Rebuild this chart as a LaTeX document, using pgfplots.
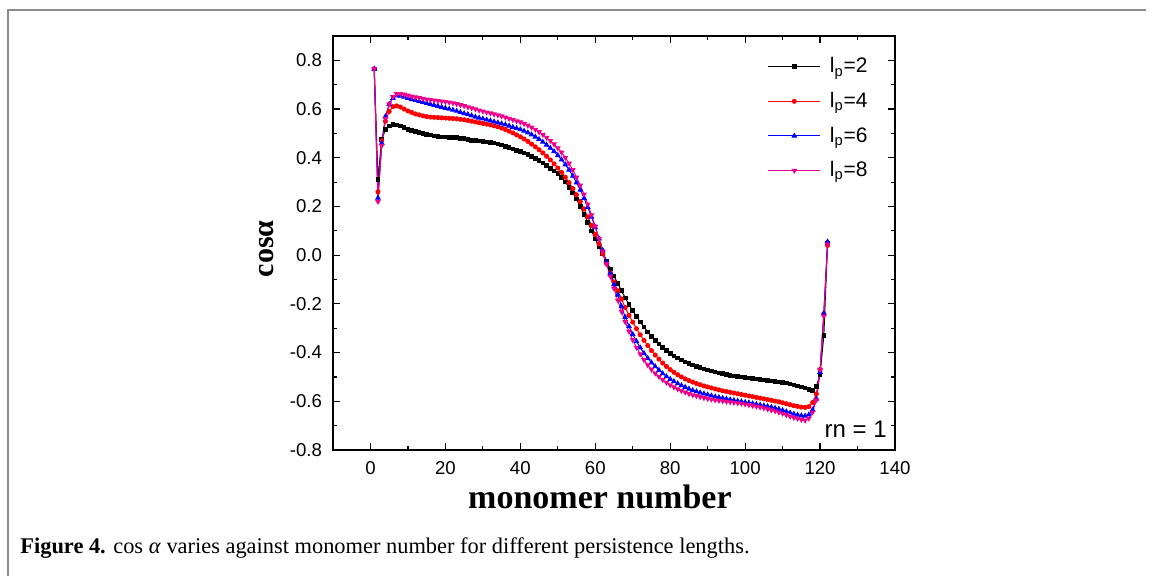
\documentclass[border=0pt]{standalone}
\usepackage{fontspec}
\setmainfont{Liberation Serif}
\newfontfamily\arial{Liberation Sans}
\usepackage{pgfplots}
\usepackage{pgfplotstable}
\pgfplotsset{compat=1.18}
\pgfplotstableread{
x k r b m
1 0.765 0.765 0.765 0.765
2 0.310 0.260 0.235 0.220
3 0.475 0.470 0.460 0.450
4 0.515 0.550 0.570 0.560
5 0.530 0.590 0.620 0.620
6 0.536 0.610 0.645 0.650
7 0.535 0.613 0.655 0.662
8 0.530 0.608 0.654 0.663
9 0.524 0.600 0.650 0.660
10 0.517 0.592 0.645 0.656
11 0.512 0.586 0.640 0.652
12 0.507 0.580 0.636 0.649
13 0.503 0.576 0.632 0.646
14 0.499 0.572 0.628 0.643
15 0.496 0.569 0.624 0.640
16 0.493 0.567 0.620 0.638
17 0.490 0.566 0.616 0.636
18 0.488 0.565 0.612 0.634
19 0.486 0.564 0.608 0.632
20 0.485 0.563 0.604 0.630
21 0.484 0.562 0.600 0.628
22 0.483 0.561 0.596 0.625
23 0.482 0.560 0.592 0.621
24 0.480 0.558 0.587 0.617
25 0.478 0.556 0.582 0.613
26 0.475 0.553 0.578 0.608
27 0.472 0.550 0.573 0.604
28 0.470 0.547 0.568 0.600
29 0.468 0.544 0.564 0.595
30 0.466 0.541 0.560 0.591
31 0.465 0.538 0.556 0.587
32 0.463 0.535 0.552 0.583
33 0.460 0.531 0.548 0.579
34 0.456 0.527 0.544 0.575
35 0.452 0.522 0.540 0.571
36 0.446 0.516 0.536 0.566
37 0.441 0.509 0.531 0.561
38 0.436 0.502 0.526 0.556
39 0.431 0.494 0.521 0.551
40 0.426 0.486 0.516 0.546
41 0.420 0.477 0.510 0.540
42 0.413 0.467 0.503 0.533
43 0.405 0.456 0.495 0.525
44 0.397 0.445 0.486 0.516
45 0.388 0.433 0.476 0.506
46 0.378 0.420 0.465 0.495
47 0.368 0.406 0.453 0.483
48 0.357 0.391 0.440 0.470
49 0.346 0.375 0.426 0.456
50 0.335 0.358 0.410 0.440
51 0.318 0.340 0.392 0.422
52 0.300 0.320 0.372 0.401
53 0.278 0.298 0.350 0.377
54 0.255 0.274 0.325 0.350
55 0.230 0.248 0.298 0.320
56 0.200 0.220 0.268 0.287
57 0.168 0.190 0.234 0.250
58 0.135 0.157 0.197 0.209
59 0.100 0.122 0.157 0.165
60 0.066 0.085 0.114 0.118
61 0.034 0.046 0.068 0.068
62 0.004 0.005 0.020 0.016
63 -0.026 -0.034 -0.028 -0.036
64 -0.056 -0.072 -0.075 -0.087
65 -0.086 -0.110 -0.120 -0.137
66 -0.116 -0.146 -0.163 -0.185
67 -0.146 -0.180 -0.210 -0.231
68 -0.176 -0.215 -0.255 -0.274
69 -0.203 -0.247 -0.292 -0.313
70 -0.228 -0.275 -0.325 -0.348
71 -0.252 -0.302 -0.354 -0.379
72 -0.274 -0.327 -0.380 -0.406
73 -0.295 -0.350 -0.403 -0.430
74 -0.315 -0.371 -0.423 -0.451
75 -0.333 -0.392 -0.441 -0.469
76 -0.350 -0.410 -0.457 -0.485
77 -0.365 -0.427 -0.472 -0.499
78 -0.379 -0.443 -0.486 -0.512
79 -0.392 -0.457 -0.498 -0.523
80 -0.404 -0.470 -0.509 -0.533
81 -0.414 -0.481 -0.518 -0.542
82 -0.423 -0.491 -0.527 -0.550
83 -0.431 -0.500 -0.535 -0.557
84 -0.438 -0.508 -0.542 -0.563
85 -0.445 -0.515 -0.549 -0.569
86 -0.451 -0.521 -0.555 -0.574
87 -0.457 -0.527 -0.560 -0.578
88 -0.462 -0.532 -0.565 -0.582
89 -0.467 -0.537 -0.569 -0.586
90 -0.472 -0.541 -0.573 -0.589
91 -0.476 -0.545 -0.577 -0.592
92 -0.480 -0.549 -0.581 -0.595
93 -0.484 -0.553 -0.584 -0.597
94 -0.487 -0.557 -0.587 -0.599
95 -0.490 -0.560 -0.590 -0.601
96 -0.493 -0.563 -0.593 -0.603
97 -0.496 -0.566 -0.596 -0.605
98 -0.498 -0.569 -0.599 -0.607
99 -0.500 -0.572 -0.601 -0.609
100 -0.502 -0.575 -0.604 -0.612
101 -0.504 -0.578 -0.606 -0.615
102 -0.506 -0.581 -0.609 -0.618
103 -0.508 -0.584 -0.612 -0.621
104 -0.510 -0.587 -0.615 -0.624
105 -0.512 -0.590 -0.618 -0.628
106 -0.514 -0.593 -0.621 -0.632
107 -0.516 -0.596 -0.624 -0.636
108 -0.518 -0.599 -0.628 -0.640
109 -0.520 -0.602 -0.632 -0.645
110 -0.522 -0.606 -0.637 -0.650
111 -0.525 -0.610 -0.642 -0.656
112 -0.529 -0.614 -0.647 -0.662
113 -0.533 -0.618 -0.652 -0.667
114 -0.537 -0.621 -0.656 -0.671
115 -0.541 -0.624 -0.659 -0.675
116 -0.546 -0.625 -0.660 -0.678
117 -0.551 -0.622 -0.655 -0.670
118 -0.555 -0.605 -0.635 -0.645
119 -0.540 -0.570 -0.590 -0.595
120 -0.490 -0.470 -0.480 -0.470
121 -0.330 -0.240 -0.240 -0.250
122 0.050 0.040 0.055 0.045
}\data
\definecolor{fr}{HTML}{8C8C8C}
\begin{document}
\begin{tikzpicture}
\useasboundingbox (0pt,0pt) rectangle (577pt,288pt);
\draw[fr,line width=1.2pt] (4pt,0pt) -- (4pt,283pt) -- (573pt,283pt);
\node[anchor=base west,inner sep=0pt,font=\fontsize{11.2}{13}\selectfont] at (10pt,11pt)
  {\textbf{Figure 4.} cos \textit{α} varies against monomer number for different persistence lengths.};
\begin{axis}[
  at={(166.5pt,63pt)}, anchor=south west,
  scale only axis, width=281pt, height=207pt,
  xmin=-10, xmax=140, ymin=-0.8, ymax=0.9,
  xtick={0,20,...,140}, minor x tick num=1,
  ytick={-0.8,-0.6,-0.4,-0.2,0,0.2,0.4,0.6,0.8},
  yticklabels={-0.8,-0.6,-0.4,-0.2,0.0,0.2,0.4,0.6,0.8},
  minor y tick num=1,
  tick align=inside, major tick length=3.5pt, minor tick length=2pt,
  tick style={black, line width=0.6pt},
  axis line style={line width=1pt},
  /pgf/number format/assume math mode=true,
  ticklabel style={font=\arial\fontsize{9.3}{11}\selectfont},
  xticklabel style={yshift=-2pt},
  yticklabel style={xshift=-2pt},
  xlabel={\textbf{monomer number}},
  ylabel={\textbf{cosα}},
  xlabel style={font=\fontsize{17}{19}\selectfont, at={(axis description cs:0.475,-0.113)}, anchor=center},
  ylabel style={font=\fontsize{15}{17}\selectfont, at={(axis description cs:-0.119,0.486)}, anchor=center},
  legend style={draw=none, fill=none, at={(axis description cs:0.773,0.956)}, anchor=north west,
    font=\arial\fontsize{10.5}{12}\selectfont, row sep=5.2pt, inner sep=0pt,
    nodes={inner sep=1.5pt}},
  legend cell align=left,
  legend image code/.code={\draw[#1, mark repeat=2, mark phase=2] plot coordinates {(0pt,0pt) (13pt,0pt) (26pt,0pt)};},
  every axis plot/.append style={line width=0.5pt},
]
\addplot[black, mark=square*, mark size=0.9pt] table[x=x,y=k] {\data};
\addlegendentry{\hspace*{3pt}l\textsubscript{p}=2}
\addplot[red, mark=*, mark size=1pt] table[x=x,y=r] {\data};
\addlegendentry{\hspace*{3pt}l\textsubscript{p}=4}
\addplot[blue, mark=triangle*, mark size=1.2pt] table[x=x,y=b] {\data};
\addlegendentry{\hspace*{3pt}l\textsubscript{p}=6}
\addplot[magenta, mark=triangle*, mark size=1.2pt, mark options={rotate=180}] table[x=x,y=m] {\data};
\addlegendentry{\hspace*{3pt}l\textsubscript{p}=8}
\node[anchor=base east, font=\arial\fontsize{12}{14}\selectfont, inner sep=0pt] at (axis description cs:0.986,0.031) {rn = 1};
\end{axis}
\end{tikzpicture}
\end{document}
